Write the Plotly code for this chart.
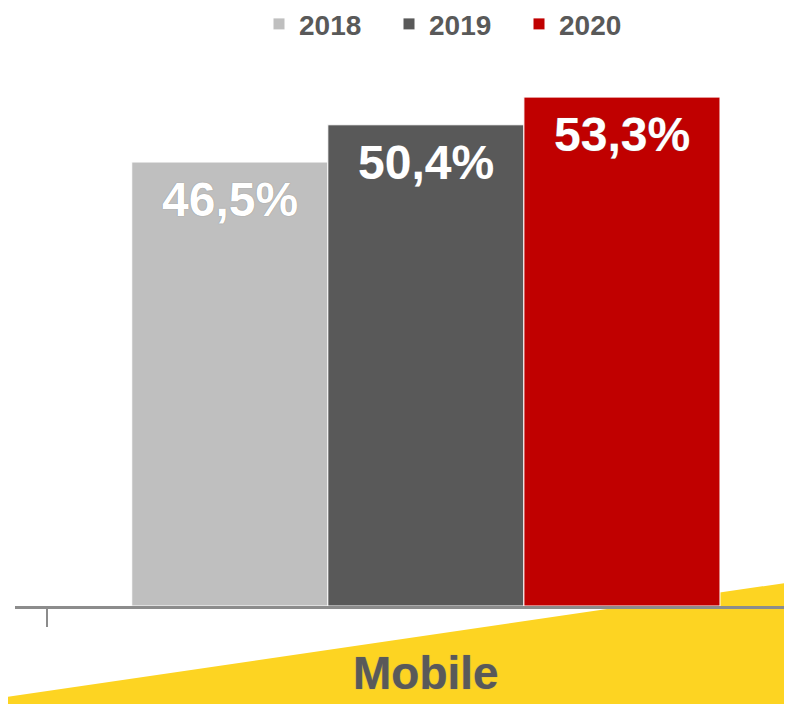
import plotly.graph_objects as go

categories = ["Mobile"]
years = ["2018", "2019", "2020"]
values_2018 = [46.5]
values_2019 = [50.4]
values_2020 = [53.3]
bar_colors = {"2018": "#BFBFBF", "2019": "#595959", "2020": "#C00000"}

series = {"2018": values_2018, "2019": values_2019, "2020": values_2020}
BARGAP = 0.224

fig = go.Figure()
for yr in years:
    fig.add_trace(go.Bar(
        name=yr,
        x=categories,
        y=series[yr],
        marker=dict(color=bar_colors[yr], line=dict(color="white", width=1)),
        cliponaxis=False,
    ))

# value labels placed just below each bar's top, through the axis scales
bar_w = (1 - BARGAP) / len(years)
annotations = []
for i, yr in enumerate(years):
    for j, cat in enumerate(categories):
        v = series[yr][j]
        annotations.append(dict(
            xref="x", yref="y", x=j + (i - (len(years) - 1) / 2) * bar_w, y=v,
            text=f"{v:.1f}%".replace(".", ","), showarrow=False,
            xanchor="center", yanchor="top", yshift=-9,
            font=dict(family="Liberation Sans, Arial, sans-serif", size=48,
                      color="white", weight="bold", shadow="0px 0px 1px #777777"),
        ))

fig.update_layout(
    width=792, height=704,
    margin=dict(l=7, r=8, t=32, b=106, autoexpand=False),
    paper_bgcolor="white", plot_bgcolor="white",
    barmode="group", bargap=BARGAP, bargroupgap=0,
    separators=",.",
    showlegend=True,
    legend=dict(orientation="h", x=0.565, xanchor="center",
                yref="container", y=0.977, yanchor="middle", entrywidth=85,
                font=dict(family="Liberation Sans, Arial, sans-serif", size=28,
                          color="#595959", weight="bold"),
                bgcolor="rgba(0,0,0,0)", itemclick=False),
    xaxis=dict(range=[-0.542, 0.483], showgrid=False,
               showline=True, linecolor="#8C8C8C", linewidth=3,
               tickson="boundaries", ticks="outside", ticklen=18,
               tickcolor="#8C8C8C", tickwidth=2,
               tickfont=dict(family="Liberation Sans, Arial, sans-serif",
                             size=46, color="#595959", weight="bold",
                             shadow="0px 0px 1px #888888"),
               ticklabelstandoff=25),
    yaxis=dict(range=[0, 59.28], visible=False, showgrid=False),
    annotations=annotations,
    shapes=[dict(type="path", xref="paper", yref="paper", layer="below",
                 path="M -0.0093,-0.1873 L -0.0093,-0.1604 L 1.0103,0.0445 L 1.0103,-0.1873 Z",
                 fillcolor="#FDD422", line=dict(width=0))],
)

fig.write_html("out.html")
